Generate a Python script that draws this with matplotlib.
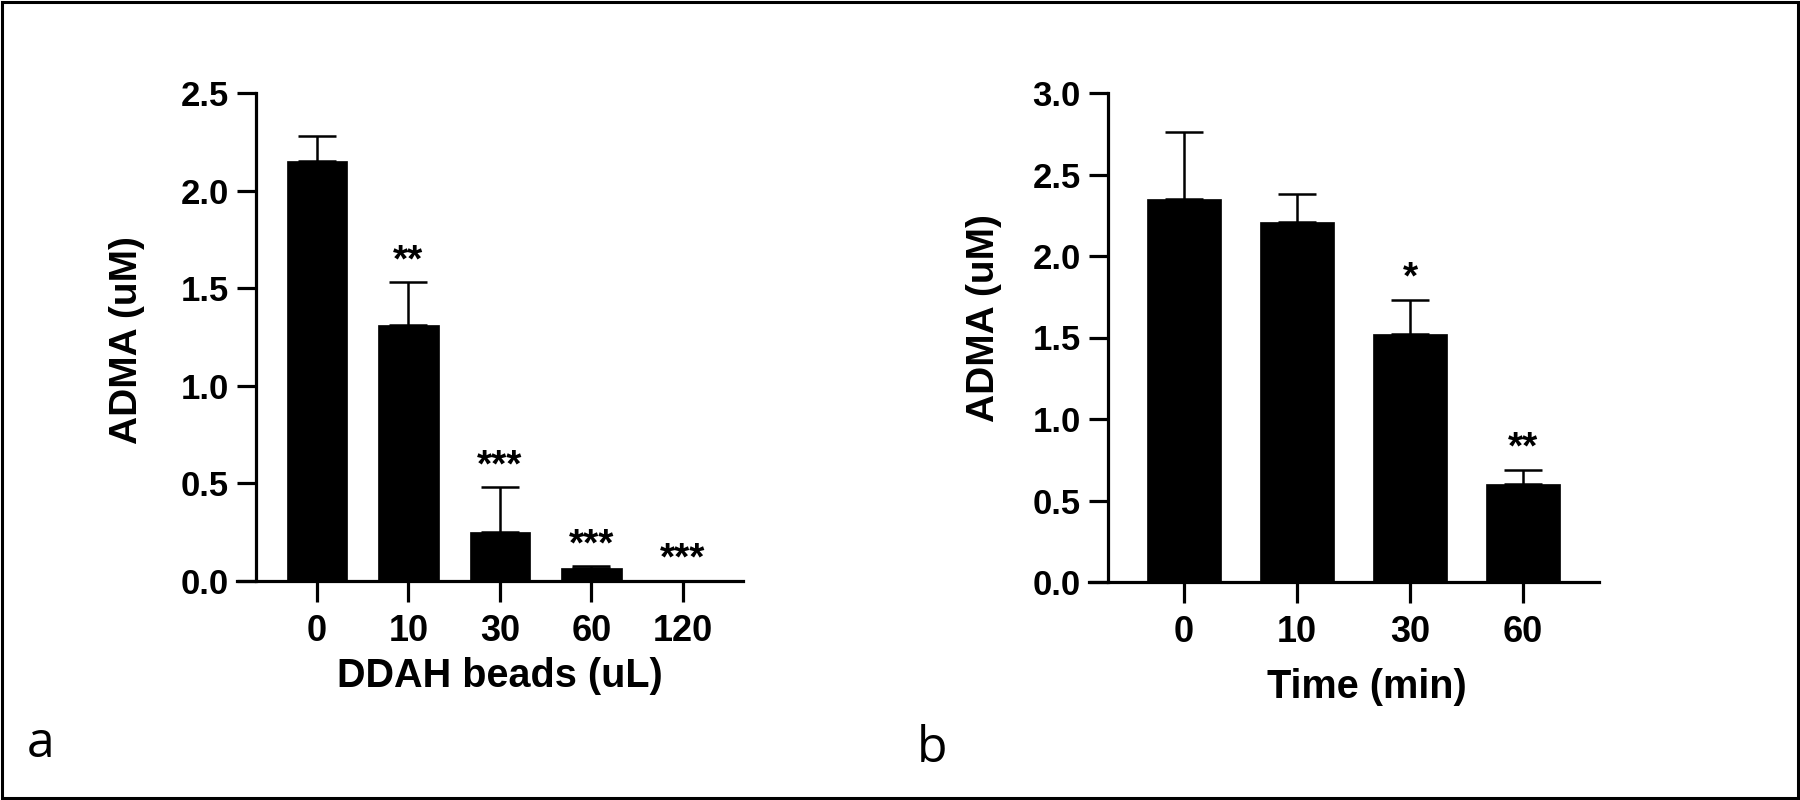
import matplotlib
matplotlib.use('Agg')
import matplotlib.pyplot as plt
from matplotlib.patches import Rectangle
import numpy as np

plt.rcParams['font.family'] = ['Liberation Sans', 'DejaVu Sans']
plt.rcParams['font.weight'] = 'bold'

# panel a: DDAH beads dose
a_labels = ['0', '10', '30', '60', '120']
a_means = [2.15, 1.31, 0.25, 0.066, 0.0]
a_sem = [0.13, 0.22, 0.23, 0.01, 0.0]
a_stars = ['', '**', '***', '***', '***']

# panel b: incubation time
b_labels = ['0', '10', '30', '60']
b_means = [2.35, 2.21, 1.52, 0.60]
b_sem = [0.41, 0.17, 0.21, 0.09]
b_stars = ['', '', '*', '**']


def draw_panel(ax, labels, means, sem, stars, ymax, xlim, spine_x, xlabel,
               xlabel_pos, ylabel_pos):
    x = np.arange(len(labels))
    ax.bar(x, means, width=0.66, color='black', edgecolor='black', linewidth=0.5, zorder=2)
    ax.errorbar(x, means, yerr=[np.zeros(len(sem)), sem], fmt='none', ecolor='black',
                elinewidth=1.8, capsize=14, capthick=1.8, zorder=3)
    for xi, m, s, st in zip(x, means, sem, stars):
        if st:
            ax.annotate(st, (xi, m + s), xytext=(0, 8), textcoords='offset points',
                        ha='center', va='baseline', fontsize=28, fontweight='bold')

    ax.set_xlim(*xlim)
    ax.set_ylim(0, ymax)
    ax.spines['top'].set_visible(False)
    ax.spines['right'].set_visible(False)
    ax.spines['left'].set_position(('data', spine_x))
    ax.spines['left'].set_linewidth(2.3)
    ax.spines['bottom'].set_linewidth(2.3)

    ax.set_xticks(x)
    ax.set_xticklabels(labels, fontsize=26, fontweight='bold')
    ticks = np.arange(0, ymax + 0.01, 0.5)
    ax.set_yticks(ticks)
    ax.set_yticklabels([f'{v:.1f}' for v in ticks], fontsize=25, fontweight='bold')
    ax.tick_params(axis='y', direction='out', length=13.7, width=2.3, pad=6)
    ax.tick_params(axis='x', direction='out', length=15, width=2.3, pad=9)

    ax.set_xlabel(xlabel, fontsize=28.5, fontweight='bold', va='baseline')
    ax.xaxis.set_label_coords(*xlabel_pos)
    ax.set_ylabel('ADMA (uM)', fontsize=28, fontweight='bold', va='center', ha='center')
    ax.yaxis.set_label_coords(*ylabel_pos)


fig = plt.figure(figsize=(18, 8), dpi=100)

ax1 = fig.add_axes([237 / 1800, 219 / 800, 506 / 1800, 488 / 800])
draw_panel(ax1, a_labels, a_means, a_sem, a_stars, 2.5, (-0.874, 4.656), -0.667,
           'DDAH beads (uL)', (0.52, -0.217), (-0.218, 0.494))

ax2 = fig.add_axes([1089 / 1800, 218 / 800, 510 / 1800, 489 / 800])
draw_panel(ax2, b_labels, b_means, b_sem, b_stars, 3.0, (-0.841, 3.673), -0.673,
           'Time (min)', (0.545, -0.237), (-0.205, 0.54))

# panel letters
fig.text(27 / 1800, (800 - 757) / 800, 'a', fontsize=36, fontweight='normal',
         family=['Open Sans', 'DejaVu Sans'], ha='left', va='baseline')
fig.text(917 / 1800, (800 - 762) / 800, 'b', fontsize=36, fontweight='normal',
         family=['Open Sans', 'DejaVu Sans'], ha='left', va='baseline')

# frame around the figure
fig.patches.append(Rectangle((0.0012, 0.0025), 0.9976, 0.995, transform=fig.transFigure,
                             fill=False, edgecolor='black', linewidth=2.2))

fig.savefig('out.png', dpi=100, facecolor='white')
